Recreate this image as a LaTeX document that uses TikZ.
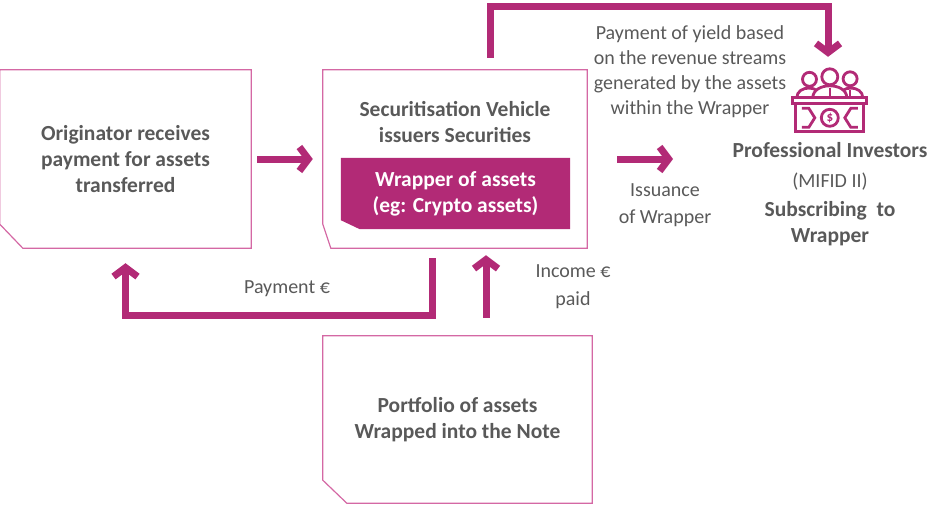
\documentclass[tikz,border=0pt]{standalone}
\usepackage{fontspec}
\setmainfont{Carlito}
\usetikzlibrary{arrows.meta}

\definecolor{plum}{RGB}{178,42,118}
\definecolor{pinkline}{RGB}{212,104,164}
\definecolor{greytext}{RGB}{89,89,89}

\begin{document}
\begin{tikzpicture}
  [x=1pt,y=-1pt,
   every node/.style={text=greytext,inner sep=0pt},
   boxline/.style={draw=pinkline,line width=1.2pt},
   flow/.style={draw=plum,line width=7pt,-{Straight Barb[length=9pt,width=24pt]}},
   bold/.style={font=\fontsize{21.5}{26}\selectfont\bfseries,align=center},
   plain/.style={font=\fontsize{20}{25}\selectfont,align=center}]
  \useasboundingbox (0,0) rectangle (939,504);

  % boxes
  \node[bold,minimum width=251pt,minimum height=178pt] (orig) at (125.5,159)
    {Originator receives\\payment for assets\\transferred};
  \draw[boxline] (orig.north west) -- (orig.north east) -- (orig.south east)
    -- ([xshift=23pt]orig.south west) -- ([yshift=24pt]orig.south west) -- cycle;

  \node[minimum width=264pt,minimum height=178pt] (sv) at (455,159) {};
  \draw[boxline] (sv.north west) -- (sv.north east) -- (sv.south east)
    -- ([xshift=8pt]sv.south west) -- ([yshift=24pt]sv.south west) -- cycle;
  \node[bold] (svt) at (455,122) {Securitisation Vehicle\\issuers Securities};

  \node[minimum width=229pt,minimum height=71pt] (wrap) at (455.5,193.5) {};
  \fill[plum] (wrap.north west) -- (wrap.north east) -- (wrap.south east)
    -- ([xshift=19pt]wrap.south west) -- ([yshift=9pt]wrap.south west) -- cycle;
  \node[bold,text=white] (wrapt) at (wrap) {Wrapper of assets\\(eg: Crypto assets)};

  \node[bold,minimum width=269pt,minimum height=167pt] (pf) at (457.5,419.5)
    {Portfolio of assets\\Wrapped into the Note};
  \draw[boxline] (pf.north west) -- (pf.north east) -- (pf.south east)
    -- ([xshift=24pt]pf.south west) -- ([yshift=23pt]pf.south west) -- cycle;

  % investors
  \node[minimum width=74pt,minimum height=64pt] (inv) at (830,101) {};
  \begin{scope}[shift={(inv.north west)},draw=plum,line width=2.8pt]
    \draw[fill=white] (4,29) .. controls (4,16) and (28,16) .. (28,29);
    \draw[fill=white] (46,29) .. controls (46,16) and (70,16) .. (70,29);
    \draw[fill=white] (16.7,10.5) circle (7pt);
    \draw[fill=white] (57.3,10) circle (7pt);
    \draw[fill=white] (20,29) .. controls (20,13) and (54,13) .. (54,29);
    \draw[fill=white] (37,8) circle (8pt);
    \draw[line width=1.6pt] (37,19) -- (37,28);
    \draw[line width=1.6pt] (57.3,21) -- (57.3,28);
    \draw[fill=white] (0,29) rectangle (74,34.5);
    \draw (3,34.5) -- (3,63) -- (71,63) -- (71,34.5);
    \draw (9,39.5) -- (16,39.5) -- (22,49) -- (16,58.5) -- (9,58.5);
    \draw (65,39.5) -- (58,39.5) -- (52,49) -- (58,58.5) -- (65,58.5);
    \draw (37,49) circle (8.5pt);
    \node[text=plum,font=\fontsize{13}{13}\selectfont\bfseries] (dol) at (37,49) {\$};
  \end{scope}
  \node[bold] (pi) at (830,150) {Professional Investors};
  \node[plain] (mif) at (830,182) {(MIFID II)};
  \node[bold] (sub) at (830,223.5) {Subscribing\ \ to\\Wrapper};

  % labels
  \node[plain] (yld) at (690,72) {Payment of yield based\\on the revenue streams\\generated by the assets\\within the Wrapper};
  \node[plain] (pay) at (287,289) {Payment €};
  \node[plain] (inc) at (573,287) {Income €\\[3pt]paid};
  \node[plain] (iss) at (665,205) {Issuance\\[2pt]of Wrapper};
  \coordinate (isstip) at (673,159);

  % arrows
  \draw[flow,shorten <=6pt,shorten >=10pt] (orig.east) -- (sv.west);
  \draw[flow,shorten <=30pt] (sv.east) -- (isstip);
  \draw[flow,shorten <=12pt,shorten >=12pt] ([xshift=35pt]sv.north) -- ++(0,-63) -| ([xshift=-2pt]inv.north);
  \draw[flow,shorten <=10pt,shorten >=15pt] ([xshift=-23pt]sv.south) -- ++(0,67) -| (orig.south);
  \draw[flow,shorten <=18pt,shorten >=7pt] ([xshift=28.5pt]pf.north) -- ([xshift=31pt]sv.south);
\end{tikzpicture}
\end{document}
